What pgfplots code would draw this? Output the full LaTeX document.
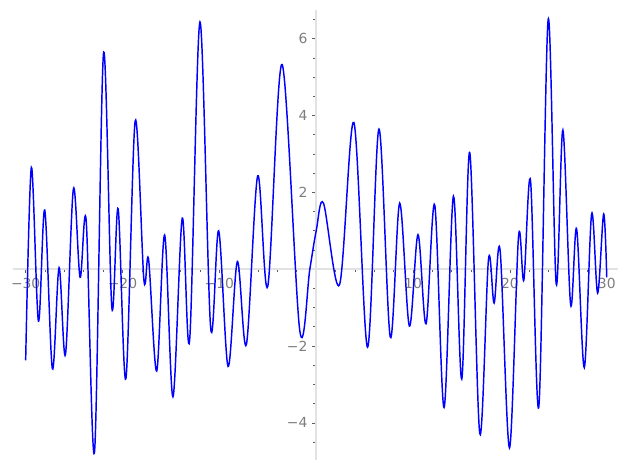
\documentclass[border=0pt]{standalone}
\usepackage{pgfplots}
\pgfplotsset{compat=1.18}
\usepackage{fontspec}
\setmainfont{DejaVu Sans}
\definecolor{axgray}{RGB}{226,226,226}
\definecolor{lblgray}{RGB}{125,125,125}
\definecolor{tickgray}{RGB}{95,95,95}
\begin{document}
\begin{tikzpicture}
\begin{axis}[
    width=435.6pt, height=324pt, scale only axis,
    xmin=-31.35, xmax=31.14, ymin=-4.97, ymax=6.75,
    axis lines=middle,
    axis line style={axgray, line width=1.4pt, -},
    xtick={-30,-20,-10,10,20,30},
    xticklabels={−30,−20,−10,10,20,30},
    ytick={-4,-2,2,4,6},
    yticklabels={−4,−2,2,4,6},
    minor xtick={-28,-26,-24,-22,-18,-16,-14,-12,-8,-6,-4,-2,0,2,4,6,8,12,14,16,18,22,24,26,28},
    minor ytick={-4.5,-3.5,-3,-2.5,-1.5,-1,-0.5,0,0.5,1,1.5,2.5,3,3.5,4.5,5,5.5,6.5},
    tick align=outside,
    major tick length=2.8pt, minor tick length=2pt,
    tick style={tickgray, line width=0.5pt},
    ticklabel style={font=\fontsize{10}{12}\selectfont, text=lblgray},
    clip=false,
]
% overlay: the bezier control points must not widen the page
\addplot[blue, line width=1.05pt, smooth, tension=0.55, overlay] coordinates {
(-30.0,-2.37) (-29.41,2.65) (-28.68,-1.35) (-28.03,1.54) (-27.24,-2.59)
(-26.55,0.04) (-25.89,-2.22) (-25.07,2.09) (-24.38,-0.21) (-23.75,1.26)
(-22.89,-4.75) (-21.96,5.62) (-21.10,-1.0) (-20.45,1.57) (-19.65,-2.85)
(-18.69,3.86) (-17.79,-0.28) (-17.31,0.26) (-16.47,-2.65) (-15.65,0.89)
(-14.79,-3.32) (-13.83,1.33) (-13.07,-1.85) (-12.0,6.44) (-10.9,-1.52)
(-10.07,1.0) (-9.1,-2.53) (-8.14,0.2) (-7.21,-1.96) (-6.04,2.43)
(-5.0,-0.44) (-3.52,5.33) (-1.7,-1.59) (-0.66,0.0) (0.0,1.0)
(0.75,1.72) (2.41,-0.40) (3.89,3.82) (5.3,-2.03) (6.48,3.65)
(7.65,-1.77) (8.62,1.72) (9.62,-1.48) (10.51,0.90) (11.34,-1.42)
(12.24,1.67) (13.2,-3.6) (14.17,1.9) (15.03,-2.86) (15.85,3.04)
(16.89,-4.28) (17.79,0.26) (18.37,-0.88) (18.99,0.49) (19.96,-4.65)
(20.89,0.85) (21.44,-0.28) (22.13,2.3) (22.99,-3.57) (23.95,6.5)
(24.78,-0.38) (25.47,3.62) (26.27,-0.92) (26.89,1.05) (27.68,-2.56)
(28.44,1.44) (29.06,-0.62) (29.68,1.44) (30.0,-0.21)
};
\path (axis cs:-32.65,-5.23) rectangle (axis cs:32.09,7.01);
\end{axis}
\end{tikzpicture}
\end{document}
